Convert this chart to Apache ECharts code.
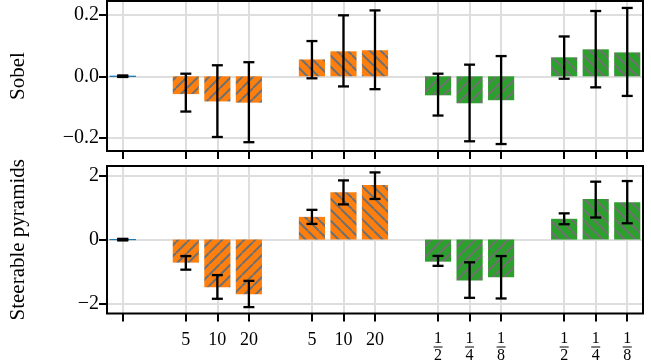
<!DOCTYPE html>
<html><head><meta charset="utf-8">
<script src="https://cdn.jsdelivr.net/npm/echarts@6/dist/echarts.min.js"></script>
<style>html,body{margin:0;padding:0;background:#fff}#c{width:651px;height:364px}</style>
</head><body><div id="c"></div>
<script>
// ---- data ----
const categories = ['c0','c1','c2','c3','c4','c5','c6','c7','c8','c9','c10','c11','c12','c13','c14','c15','c16'];
const tickLabels = ['', null, '5','10','20', null, '5','10','20', null, '1/2','1/4','1/8', null, '1/2','1/4','1/8'];
const groups = ['base', null, 'orange','orange','orange', null, 'orange','orange','orange', null, 'green','green','green', null, 'green','green','green'];
const sobelMean = [0, null, -0.058, -0.082, -0.086, null, 0.055, 0.0815, 0.085, null, -0.062, -0.088, -0.078, null, 0.062, 0.088, 0.078];
const sobelLow  = [0, null, -0.115, -0.198, -0.215, null, -0.0065, -0.033, -0.042, null, -0.128, -0.212, -0.221, null, -0.008, -0.036, -0.064];
const sobelHigh = [0, null, 0.0085, 0.036, 0.046, null, 0.115, 0.199, 0.215, null, 0.0085, 0.038, 0.066, null, 0.130, 0.213, 0.223];
const steerMean = [0, null, -0.72, -1.49, -1.71, null, 0.71, 1.48, 1.71, null, -0.69, -1.28, -1.18, null, 0.65, 1.27, 1.17];
const steerLow  = [0, null, -0.94, -1.85, -2.11, null, 0.49, 1.10, 1.27, null, -0.82, -1.82, -1.84, null, 0.48, 0.69, 0.51];
const steerHigh = [0, null, -0.515, -1.11, -1.29, null, 0.93, 1.85, 2.10, null, -0.51, -0.71, -0.515, null, 0.82, 1.81, 1.83];
const sobelTicks = [-0.2, 0, 0.2];
const steerTicks = [-2, 0, 2];
const panelNames = ['Sobel', 'Steerable pyramids'];

// ---- styles ----
const FONT = 'Liberation Serif';
const baseColors = {base: '#1f77b4', orange: '#ff7f0e', green: '#2ca02c'};
function hatch(bg, rising) {
  const P = 11, c = document.createElement('canvas');
  c.width = P; c.height = P;
  const g = c.getContext('2d');
  g.fillStyle = bg; g.fillRect(0, 0, P, P);
  g.strokeStyle = '#707070'; g.lineWidth = 2;
  g.beginPath();
  for (const o of [-P, 0, P]) {
    if (rising) { g.moveTo(o, P); g.lineTo(o + P, 0); }
    else { g.moveTo(o, 0); g.lineTo(o + P, P); }
  }
  g.stroke();
  return {image: c, repeat: 'repeat'};
}
const patterns = {
  orange: {neg: hatch(baseColors.orange, true), pos: hatch(baseColors.orange, false)},
  green: {neg: hatch(baseColors.green, true), pos: hatch(baseColors.green, false)}
};
function barItems(mean) {
  return mean.map((v, i) => {
    if (v === null) return '-';
    const gname = groups[i];
    if (gname === 'base') return {value: v, itemStyle: {color: baseColors.base, borderColor: baseColors.base, borderWidth: 1}};
    return {value: v, itemStyle: {color: patterns[gname][v < 0 ? 'neg' : 'pos']}};
  });
}
function errItems(low, high) {
  const out = [];
  low.forEach((l, i) => { if (l !== null) out.push([i, l, high[i]]); });
  return out;
}
function renderErr(params, api) {
  const x = api.value(0);
  const pLo = api.coord([x, api.value(1)]);
  const pHi = api.coord([x, api.value(2)]);
  const hw = 5.5;
  const style = {stroke: '#000', lineWidth: 2.3};
  const capStyle = {stroke: '#000', lineWidth: Math.abs(pLo[1] - pHi[1]) < 1 ? 3.5 : 2.3};
  return {type: 'group', children: [
    {type: 'line', shape: {x1: pLo[0], y1: pLo[1], x2: pHi[0], y2: pHi[1]}, style},
    {type: 'line', shape: {x1: pLo[0] - hw, y1: pLo[1], x2: pLo[0] + hw, y2: pLo[1]}, style: capStyle},
    {type: 'line', shape: {x1: pHi[0] - hw, y1: pHi[1], x2: pHi[0] + hw, y2: pHi[1]}, style: capStyle}
  ]};
}
const hasTick = (i) => tickLabels[i] !== null;
const gridLine = {color: '#dedede', width: 2};
const tickLine = {color: '#000', width: 2};
function xAxis(gridIndex, showLabels) {
  return {
    type: 'category', gridIndex, data: categories, boundaryGap: true, position: 'bottom',
    axisLine: {show: false, onZero: false},
    axisTick: {show: true, alignWithLabel: true, length: 8, interval: hasTick, lineStyle: tickLine},
    splitLine: {show: true, alignWithLabel: true, interval: hasTick, lineStyle: gridLine},
    axisLabel: {
      show: showLabels, interval: 0, margin: 18,
      fontFamily: FONT, fontSize: 18, color: '#000',
      formatter: (val, idx) => {
        const t = tickLabels[idx];
        if (!t) return '';
        if (t.indexOf('/') >= 0) {
          const [n, d] = t.split('/');
          return '{n|' + n + '}\n{l|}\n{d|' + d + '}';
        }
        return t;
      },
      rich: {
        n: {fontFamily: FONT, fontSize: 16, lineHeight: 14, color: '#000', align: 'center'},
        l: {width: 9, height: 1, lineHeight: 3, backgroundColor: '#000', align: 'center'},
        d: {fontFamily: FONT, fontSize: 16, lineHeight: 15, color: '#000', align: 'center'}
      }
    }
  };
}
function yAxis(gridIndex, min, max, ticks, fmt, name, nameGap) {
  return {
    type: 'value', gridIndex, min, max,
    axisLine: {show: false, onZero: false},
    axisTick: {show: true, customValues: ticks, length: 8, lineStyle: tickLine},
    axisLabel: {customValues: ticks, formatter: fmt, fontFamily: FONT, fontSize: 20, color: '#000', margin: 8},
    splitLine: {show: true, lineStyle: gridLine},
    name, nameLocation: 'middle', nameGap, nameRotate: 90,
    nameTextStyle: {fontFamily: FONT, fontSize: 21, color: '#000'}
  };
}
const minus = (s) => s.replace('-', '\u2212');
const chart = echarts.init(document.getElementById('c'), null, {renderer: 'canvas'});
chart.setOption({
  animation: false,
  backgroundColor: '#fff',
  grid: [
    {left: 106, top: 1, width: 537, height: 150, show: true, borderColor: '#000', borderWidth: 2, backgroundColor: 'transparent', z: 10},
    {left: 106, top: 166, width: 537, height: 149, show: true, borderColor: '#000', borderWidth: 2, backgroundColor: 'transparent', z: 10}
  ],
  xAxis: [xAxis(0, false), xAxis(1, true)],
  yAxis: [
    yAxis(0, -0.2437, 0.2457, sobelTicks, (v) => minus(v.toFixed(1)), panelNames[0], 78),
    yAxis(1, -2.31, 2.30, steerTicks, (v) => minus(String(Math.round(v))), panelNames[1], 78)
  ],
  series: [
    {type: 'bar', xAxisIndex: 0, yAxisIndex: 0, barWidth: '83%', data: barItems(sobelMean)},
    {type: 'custom', xAxisIndex: 0, yAxisIndex: 0, z: 5, renderItem: renderErr, data: errItems(sobelLow, sobelHigh)},
    {type: 'bar', xAxisIndex: 1, yAxisIndex: 1, barWidth: '83%', data: barItems(steerMean)},
    {type: 'custom', xAxisIndex: 1, yAxisIndex: 1, z: 5, renderItem: renderErr, data: errItems(steerLow, steerHigh)}
  ]
});
</script></body></html>
